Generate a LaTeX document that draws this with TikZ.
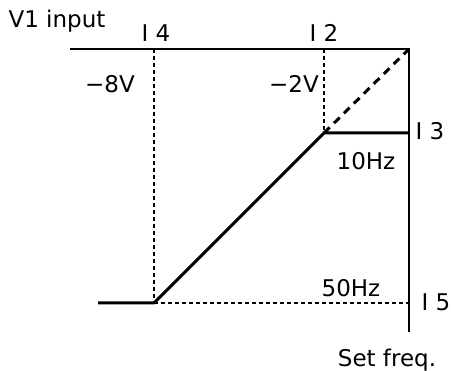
\documentclass[tikz,border=0pt]{standalone}
\usepackage{fontspec}
\setmainfont{DejaVu Sans}
\usetikzlibrary{positioning}

\begin{document}
\begin{tikzpicture}[
  x=1pt, y=-1pt,
  font=\fontsize{23}{26}\selectfont,
  axis/.style={line width=2pt},
  curve/.style={line width=3pt},
  guide/.style={line width=1.8pt, dash pattern=on 4pt off 3pt},
  ext/.style={line width=3pt, dash pattern=on 8pt off 6pt},
  lbl/.style={inner sep=0pt, anchor=base}
]
\useasboundingbox (0,0) rectangle (451,371);

\coordinate (topL) at (70,49);
\coordinate (corner) at (409,49);
\coordinate (axisEnd) at (409,332);
\coordinate (i4top) at (154,49);
\coordinate (i2top) at (324,49);
\coordinate (knee) at (324,133);
\coordinate (i3pt) at (409,133);
\coordinate (low) at (154,303);
\coordinate (start) at (98,303);
\coordinate (i5pt) at (409,303);

% axes
\draw[axis] (topL) -- (corner) -- (axisEnd);

% guides
\draw[guide] (i4top) -- (low);
\draw[guide] (i2top) -- (knee);
\draw[guide] (low) -- (i5pt);
\draw[ext] (knee) -- (corner);

% characteristic
\draw[curve, line join=round] (start) -- (low) -- (knee) -- (i3pt);

% labels
\node[lbl] (vin) at (57,28) {V1 input};
\node[lbl] (i4) at (156,42) {I 4};
\node[lbl] (i2) at (324,42) {I 2};
\node[lbl] (m8) at (110,93) {−8V};
\node[lbl] (m2) at (294,93) {−2V};
\node[lbl] (i3) at (430,140) {I 3};
\node[lbl] (f10) at (366,170) {10Hz};
\node[lbl] (f50) at (351,297) {50Hz};
\node[lbl] (i5) at (436,311) {I 5};
\node[lbl] (setf) at (387,367) {Set freq.};

\end{tikzpicture}
\end{document}
